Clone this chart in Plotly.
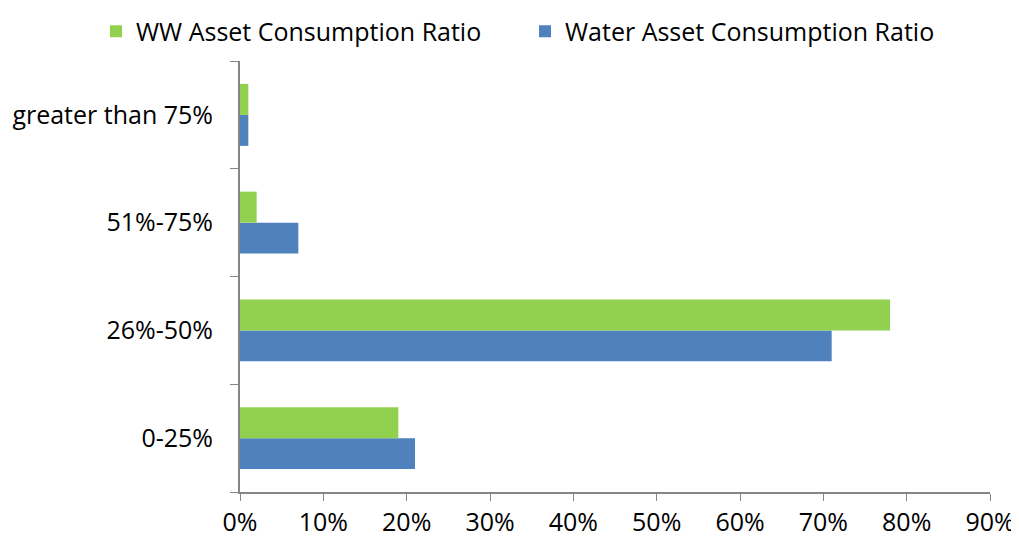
import plotly.graph_objects as go

categories = ["0-25%", "26%-50%", "51%-75%", "greater than 75%"]
water_values = [21, 71, 7, 1]
ww_values = [19, 78, 2, 1]
tick_vals = [0, 10, 20, 30, 40, 50, 60, 70, 80, 90]
tick_text = [f"{v}%" for v in tick_vals]

fig = go.Figure()
fig.add_trace(go.Bar(
    y=categories, x=water_values, orientation="h",
    name="Water Asset Consumption Ratio",
    marker=dict(color="#4F81BD", line=dict(width=0)),
))
fig.add_trace(go.Bar(
    y=categories, x=ww_values, orientation="h",
    name="WW Asset Consumption Ratio",
    marker=dict(color="#92D050", line=dict(width=0)),
))

font_family = "'Open Sans', sans-serif"
fig.update_layout(
    width=1011, height=536,
    margin=dict(l=232, r=29, t=53, b=52, autoexpand=False),
    barmode="group", bargap=0.425, bargroupgap=0,
    plot_bgcolor="white", paper_bgcolor="white",
    font=dict(family=font_family, size=25, color="black"),
    legend=dict(
        orientation="h", traceorder="reversed",
        x=-0.192, xanchor="left", y=1.122, yanchor="top",
        font=dict(size=25), entrywidth=384, entrywidthmode="pixels",
        itemwidth=30, tracegroupgap=0,
    ),
    xaxis=dict(
        range=[0, 90], tickvals=tick_vals, ticktext=tick_text,
        showgrid=False, zeroline=False, automargin=False,
        showline=True, linecolor="#868686", linewidth=2,
        ticks="outside", ticklen=7, tickcolor="#868686", tickwidth=1,
        tickfont=dict(size=25),
    ),
    yaxis=dict(
        showgrid=False, zeroline=False, automargin=False,
        showline=True, linecolor="#868686", linewidth=2,
        ticks="outside", ticklen=8, tickcolor="#868686", tickwidth=1,
        tickson="boundaries", tickfont=dict(size=25),
        ticklabelstandoff=20,
        categoryorder="array", categoryarray=categories,
    ),
)

fig.write_html("out.html")
